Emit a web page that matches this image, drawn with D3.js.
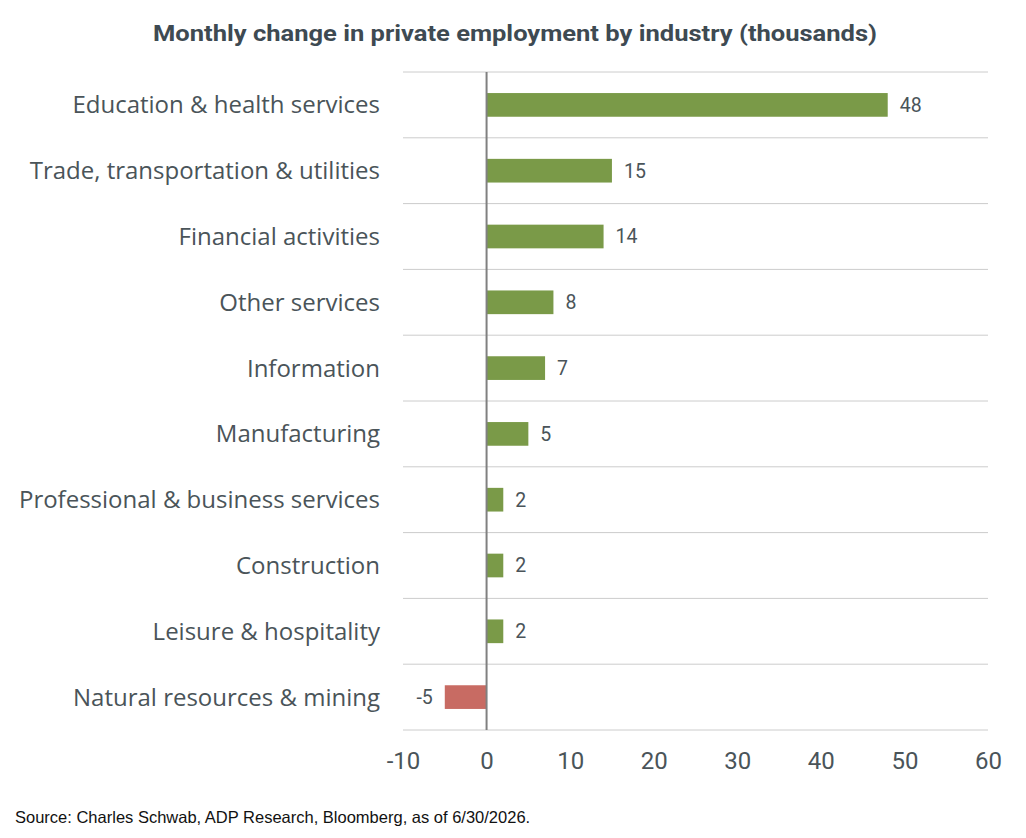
<!DOCTYPE html>
<html>
<head>
<meta charset="utf-8">
<script src="https://cdn.jsdelivr.net/npm/d3@7"></script>
<style>
  body { margin: 0; background: #fff; }
  text { font-family: Roboto, "Noto Sans", sans-serif; }
</style>
</head>
<body>
<script>
const categories = ["Education & health services", "Trade, transportation & utilities", "Financial activities", "Other services", "Information", "Manufacturing", "Professional & business services", "Construction", "Leisure & hospitality", "Natural resources & mining"]
const values = [48, 15, 14, 8, 7, 5, 2, 2, 2, -5]
const xTicks = [-10, 0, 10, 20, 30, 40, 50, 60]

const w = 1026
const h = 838
const pLeft = 403, pRight = 988, pTop = 72, pBottom = 730

const svg = d3.select("body").append("svg").attr("width", w).attr("height", h)

const x = d3.scaleLinear().domain([-10, 60]).range([pLeft, pRight])
const y = d3.scaleBand().domain(categories).range([pTop, pBottom]).paddingInner(0.64).paddingOuter(0.32)
const step = y.step()

svg.append("text").attr("x", 515).attr("y", 41).attr("text-anchor", "middle")
  .style("font-size", "22px").style("font-weight", 700).style("fill", "#3e4a52")
  .attr("textLength", 724).attr("lengthAdjust", "spacingAndGlyphs")
  .text("Monthly change in private employment by industry (thousands)")

// gridlines between rows
const lines = d3.range(categories.length + 1).map(i => pTop + i * step)
svg.selectAll("line.grid").data(lines).enter().append("line").attr("class", "grid")
  .attr("x1", pLeft).attr("x2", pRight).attr("y1", d => d).attr("y2", d => d)
  .attr("stroke", "#cccccc").attr("stroke-width", 1)

svg.selectAll("rect.bar").data(values).enter().append("rect").attr("class", "bar")
  .attr("x", d => x(Math.min(0, d))).attr("width", d => Math.abs(x(d) - x(0)))
  .attr("y", (d, i) => y(categories[i])).attr("height", y.bandwidth())
  .attr("fill", d => d < 0 ? "#c86b63" : "#7a9a48")

svg.append("line").attr("x1", x(0)).attr("x2", x(0)).attr("y1", pTop).attr("y2", pBottom)
  .attr("stroke", "#808080").attr("stroke-width", 2)

svg.selectAll("text.val").data(values).enter().append("text").attr("class", "val")
  .attr("x", d => d < 0 ? x(d) - 12 : x(d) + 12)
  .attr("y", (d, i) => y(categories[i]) + y.bandwidth() / 2)
  .attr("dy", "0.35em").attr("text-anchor", d => d < 0 ? "end" : "start")
  .style("font-size", "19.5px").style("fill", "#4a5459").text(d => String(d))

const yAxis = svg.append("g").attr("transform", "translate(380,0)")
  .call(d3.axisLeft(y).tickSize(0).tickPadding(0))
yAxis.select(".domain").remove()
yAxis.selectAll("text").style("font-size", "24px").style("fill", "#4a5459")
  .style("font-family", "\"Open Sans\", Roboto, sans-serif").attr("dy", "0.35em")

const xAxis = svg.append("g").attr("transform", "translate(0," + pBottom + ")")
  .call(d3.axisBottom(x).tickValues(xTicks).tickSize(0).tickPadding(22).tickFormat(d => String(d)))
xAxis.select(".domain").remove()
xAxis.selectAll("text").style("font-size", "24px").style("fill", "#4a5459")

svg.append("text").attr("x", 15).attr("y", 823)
  .style("font-size", "16.5px").style("fill", "#111").style("font-family", "\"Liberation Sans\", Arial, sans-serif")
  .text("Source: Charles Schwab, ADP Research, Bloomberg, as of 6/30/2026.")
</script>
</body>
</html>
